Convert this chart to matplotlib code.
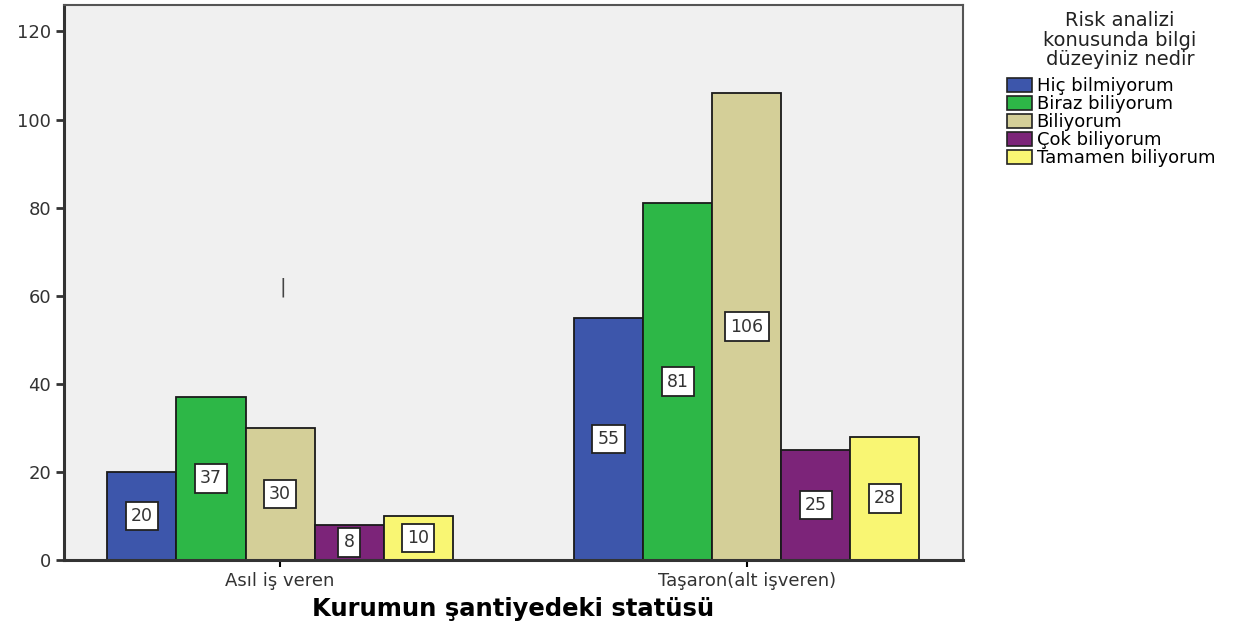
import numpy as np
import matplotlib
matplotlib.use("Agg")
import matplotlib.pyplot as plt
from matplotlib.patches import Patch

plt.rcParams["font.family"] = ["DejaVu Sans"]

groups = ["Asıl iş veren", "Taşaron(alt işveren)"]
levels = ["Hiç bilmiyorum", "Biraz biliyorum", "Biliyorum", "Çok biliyorum", "Tamamen biliyorum"]
counts = {
    "Hiç bilmiyorum": [20, 55],
    "Biraz biliyorum": [37, 81],
    "Biliyorum": [30, 106],
    "Çok biliyorum": [8, 25],
    "Tamamen biliyorum": [10, 28],
}
colors = ["#3d56ab", "#2db747", "#d4cf98", "#7c2479", "#f9f673"]
legend_title = "Risk analizi\nkonusunda bilgi\ndüzeyiniz nedir"

fig = plt.figure(figsize=(12.6, 6.26), dpi=100)
ax = fig.add_axes([0.051, 0.1055, 0.713, 0.8865])
ax.set_facecolor("#f0f0f0")

x = np.arange(len(groups))
w = 0.148
for i, lev in enumerate(levels):
    xs = x + (i - 2) * w
    ax.bar(xs, counts[lev], width=w, color=colors[i], edgecolor="#1a1a1a", linewidth=1.3, zorder=2)
    for xi, v in zip(xs, counts[lev]):
        ax.text(xi, v / 2, str(v), ha="center", va="center", fontsize=12.5, color="#333",
                bbox=dict(boxstyle="square,pad=0.3", fc="white", ec="#222", lw=1.3), zorder=3)

# stray mark present in the source image
ax.text(0.005, 62, "|", ha="center", va="center", fontsize=14, color="#444")

ax.set_xlim(-0.4625, 1.4625)
ax.set_ylim(0, 126)
ax.set_yticks([0, 20, 40, 60, 80, 100, 120])
ax.set_xticks(x)
ax.set_xticklabels(groups, fontsize=13, color="#333")
ax.tick_params(axis="y", labelsize=13, colors="#333", length=6, width=2)
ax.tick_params(axis="x", length=5, width=1.5)
for s in ["left", "bottom"]:
    ax.spines[s].set_linewidth(2.2)
    ax.spines[s].set_color("#333")
for s in ["top", "right"]:
    ax.spines[s].set_linewidth(1.5)
    ax.spines[s].set_color("#555")
ax.set_xlabel("Kurumun şantiyedeki statüsü", fontsize=17.5, fontweight="bold", labelpad=5)

# legend title drawn separately so the gap to the entries matches
fig.text(0.889, 0.936, legend_title, ha="center", va="center", fontsize=14,
         linespacing=1.05, color="#222")
handles = [Patch(fc=c, ec="#222", lw=1.2, label=l) for c, l in zip(colors, levels)]
fig.legend(handles=handles, loc="upper left", bbox_to_anchor=(0.799, 0.877), frameon=False,
           fontsize=13, handlelength=1.4, handleheight=0.85, handletextpad=0.25,
           labelspacing=0.0, borderaxespad=0, borderpad=0)

fig.savefig("out.png", dpi=100)
